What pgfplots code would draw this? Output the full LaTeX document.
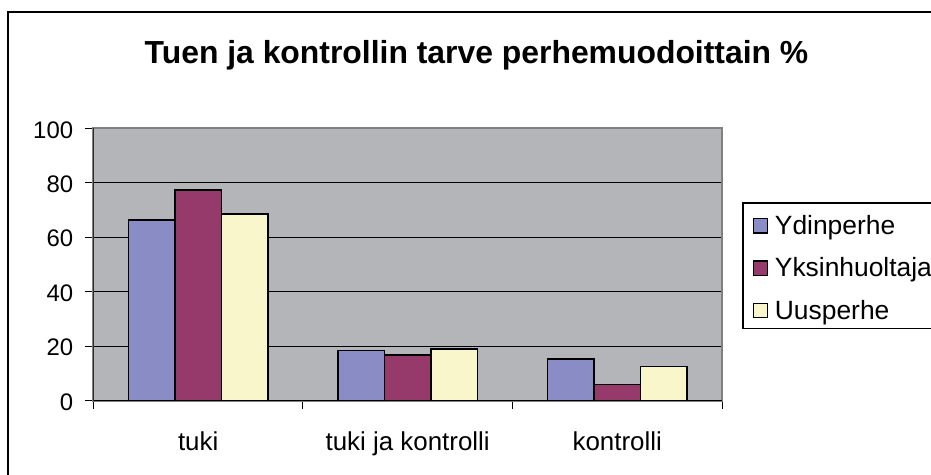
\documentclass[border=0pt]{standalone}
\usepackage{pgfplots}
\pgfplotsset{compat=1.18}
\usepackage{fontspec}
\setmainfont{Liberation Sans}
\definecolor{plotgray}{RGB}{180,181,185}
\definecolor{ydin}{RGB}{138,141,197}
\definecolor{yksin}{RGB}{150,58,107}
\definecolor{uus}{RGB}{248,246,202}
\begin{document}
\begin{tikzpicture}
\useasboundingbox (0bp,0bp) rectangle (931bp,475bp);
\clip (0bp,0bp) rectangle (931bp,475bp);
\draw[line width=2.5bp] (8bp,-20bp) -- (8bp,462.8bp) -- (960bp,462.8bp);
\node[font=\fontsize{32}{36}\selectfont\bfseries, anchor=base, inner sep=0pt] at (476.5bp,411.7bp) {Tuen ja kontrollin tarve perhemuodoittain \%};
\begin{axis}[
  at={(93.4bp,74.3bp)}, anchor=south west,
  scale only axis, width=628.6bp, height=272.4bp,
  xmin=-0.5, xmax=2.5, ymin=0, ymax=100,
  ybar=0pt, bar width=46.5bp,
  xtick={0,1,2}, xticklabels={tuki, tuki ja kontrolli, kontrolli},
  minor xtick={-0.5,0.5,1.5,2.5},
  ytick={0,20,40,60,80,100},
  ymajorgrids, grid style={black, line width=1bp},
  axis background/.style={fill=plotgray},
  axis line style={draw=gray, line width=2bp},
  tick align=outside, xtick pos=left, ytick pos=left,
  major tick length=8bp, minor tick length=8bp,
  major x tick style={draw=none},
  minor x tick style={black, line width=1bp},
  ytick style={black, line width=1bp},
  yticklabel style={font=\fontsize{24}{28}\selectfont, anchor=east, inner sep=0pt, xshift=-12.1bp, yshift=-1.5bp},
  xticklabel style={font=\fontsize{26}{30}\selectfont, anchor=base, inner sep=0pt, yshift=-41.3bp},
  /pgf/number format/assume math mode=true,
  legend style={at={(1.0323,0.7283)}, anchor=north west, draw=black, line width=1.2bp, fill=white,
    font=\fontsize{26.5}{30}\selectfont, inner xsep=10bp, inner ysep=7.7bp, row sep=16.2bp,
    column sep=7bp, nodes={inner sep=0pt, text height=24bp, text depth=2bp}, cells={anchor=base west}},
  legend image code/.code={\draw[#1, draw=black, line width=1.3bp] (0.65bp,1.5bp) rectangle (14.35bp,15.8bp);},
]
\addplot[fill=ydin, draw=black, line width=1.5bp] coordinates {(0,66.4) (1,18.4) (2,15.4)};
\addplot[fill=yksin, draw=black, line width=1.5bp] coordinates {(0,77.3) (1,16.8) (2,5.9)};
\addplot[fill=uus, draw=black, line width=1.5bp] coordinates {(0,68.5) (1,19.0) (2,12.5)};
\legend{Ydinperhe, Yksinhuoltaja, Uusperhe}
\draw[gray, line width=2bp] (rel axis cs:0,1) -- (rel axis cs:1,1) -- (rel axis cs:1,0);
\draw[black, line width=1.5bp] (rel axis cs:0,1) -- (rel axis cs:0,0) -- (rel axis cs:1,0);
\end{axis}
\end{tikzpicture}
\end{document}
